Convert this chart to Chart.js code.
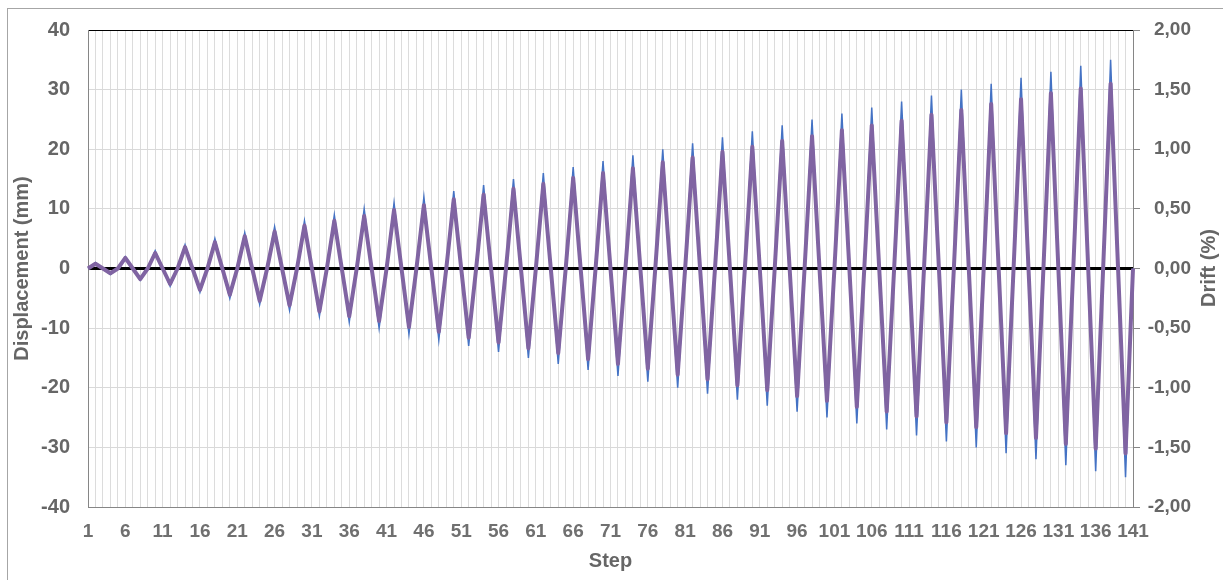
<!DOCTYPE html>
<html>
<head>
<meta charset="utf-8">
<script src="https://cdn.jsdelivr.net/npm/chart.js@4.4.1/dist/chart.umd.min.js"></script>
<style>
  html, body { margin: 0; padding: 0; background: #fff; overflow: hidden; }
  #wrap { position: relative; width: 1223px; height: 580px; }
  #frame { position: absolute; left: 7px; top: 8px; width: 1300px; height: 700px;
           border: 1px solid #a6a6a6; pointer-events: none; }
</style>
</head>
<body>
<div id="wrap">
  <canvas id="grafico" width="1223" height="580"></canvas>
  <div id="frame"></div>
</div>
<script>
// amplitude of each loading cycle (35 cycles)
const dispPeak = [1, 2, 3, 4, 5, 6, 7, 8, 9, 10, 11, 12, 13, 14, 15, 16, 17, 18,
  19, 20, 21, 22, 23, 24, 25, 26, 27, 28, 29, 30, 31, 32, 33, 34, 35];
const dispTrough = [-1, -2, -3, -4, -5, -6, -7, -8, -9, -10, -11, -12, -13, -14, -15, -16, -17, -18,
  -19, -20, -21, -22, -23, -24, -25, -26, -27, -28, -29, -30, -31, -32, -33, -34, -35];
// drift (%) on the right axis
const driftPeak = [0.04, 0.09, 0.13, 0.18, 0.22, 0.27, 0.31, 0.36, 0.40, 0.44, 0.49, 0.53,
  0.58, 0.62, 0.67, 0.71, 0.76, 0.80, 0.84, 0.89, 0.93, 0.98, 1.02, 1.07, 1.11, 1.16,
  1.20, 1.24, 1.29, 1.33, 1.38, 1.42, 1.47, 1.51, 1.55];
const driftTrough = [-0.04, -0.09, -0.13, -0.18, -0.22, -0.27, -0.31, -0.36, -0.40, -0.44, -0.49, -0.53,
  -0.58, -0.62, -0.67, -0.71, -0.76, -0.80, -0.84, -0.89, -0.93, -0.98, -1.02, -1.07, -1.11, -1.16,
  -1.20, -1.24, -1.29, -1.33, -1.38, -1.42, -1.47, -1.51, -1.55];
const labelEvery = 5;

// each cycle: 0 -> peak -> 0 -> trough, ending back at 0
const displacement = [0];
const drift = [0];
dispPeak.forEach((p, i) => {
  displacement.push(p, 0, dispTrough[i], 0);
  drift.push(driftPeak[i], 0, driftTrough[i], 0);
});
const steps = displacement.map((_, i) => String(i + 1));

const fonte = "'Liberation Sans Narrow', 'Arial Narrow', 'Liberation Sans', Arial, sans-serif";
const corTexto = '#666666';
const tickFont = { family: fonte, size: 20, weight: 'bold' };
const xTickFont = { family: fonte, size: 19, weight: 'bold' };

const tituloDireita = {
  id: 'tituloDireita',
  afterDraw(chart) {
    const ctx = chart.ctx;
    ctx.save();
    ctx.translate(1209, 268);
    ctx.rotate(-Math.PI / 2);
    ctx.font = 'bold 20px ' + fonte;
    ctx.fillStyle = corTexto;
    ctx.textAlign = 'center';
    ctx.textBaseline = 'middle';
    ctx.fillText('Drift (%)', 0, 0);
    ctx.restore();
  }
};

const config = {
  type: 'line',
  data: {
    labels: steps,
    datasets: [{
      label: 'Drift',
      data: drift,
      yAxisID: 'y2',
      borderColor: '#8064A2',
      borderWidth: 4,
      borderJoinStyle: 'round',
      pointRadius: 0,
      tension: 0,
      order: 0
    }, {
      label: 'Displacement',
      data: displacement,
      yAxisID: 'y',
      borderColor: '#4472C4',
      borderWidth: 1.5,
      pointRadius: 0,
      tension: 0,
      order: 1
    }]
  },
  options: {
    responsive: false,
    animation: false,
    devicePixelRatio: 1,
    layout: { padding: { top: 30, left: 0, right: 32, bottom: 0 } },
    plugins: { legend: { display: false }, tooltip: { enabled: false } },
    scales: {
      x: {
        type: 'category',
        offset: false,
        grid: { color: '#dcdcdc', lineWidth: 1, drawTicks: false },
        border: { display: false },
        ticks: {
          autoSkip: false, maxRotation: 0, padding: 13,
          color: '#707070', font: xTickFont,
          callback: (v, i) => (i % labelEvery === 0 ? steps[i] : '')
        },
        title: { display: true, text: 'Step', color: corTexto,
                 font: { family: fonte, size: 20, weight: 'bold' }, padding: { top: 0, bottom: 7 } },
        afterFit: (s) => { s.height = 73; }
      },
      y: {
        position: 'left',
        min: -40, max: 40,
        ticks: { stepSize: 10, padding: 18, color: corTexto, font: tickFont },
        grid: {
          drawTicks: false,
          color: (c) => (c.tick.value === 0 || c.tick.value === 40 ? '#000000'
                        : c.tick.value === -40 ? '#868686' : '#d9d9d9'),
          lineWidth: (c) => (c.tick.value === 0 ? 3 : 1)
        },
        border: { display: true, color: '#868686', width: 1 },
        title: { display: true, text: 'Displacement (mm)', color: corTexto,
                 font: { family: fonte, size: 20, weight: 'bold' }, padding: { top: 10, bottom: 0 } },
        afterFit: (s) => { s.width = 88; }
      },
      y2: {
        position: 'right',
        min: -2, max: 2,
        ticks: {
          stepSize: 0.5, padding: 8, crossAlign: 'far', color: corTexto, font: xTickFont,
          callback: (v) => v.toFixed(2).replace('.', ',')
        },
        grid: { drawOnChartArea: false, drawTicks: true, tickLength: 7, color: '#868686' },
        border: { display: true, color: '#868686', width: 1 },
        afterFit: (s) => { s.width = 58; }
      }
    }
  },
  plugins: [tituloDireita]
};

new Chart(document.getElementById('grafico'), config);
</script>
</body>
</html>
